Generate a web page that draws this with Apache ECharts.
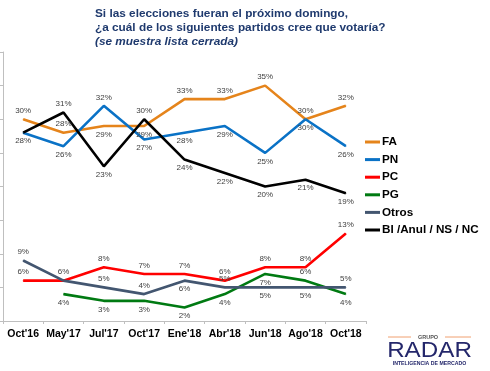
<!DOCTYPE html>
<html>
<head>
<meta charset="utf-8">
<script src="https://cdn.jsdelivr.net/npm/echarts@6/dist/echarts.min.js"></script>
<style>html,body{margin:0;padding:0;background:#fff}#c{width:490px;height:371px}</style>
</head>
<body>
<div id="c"></div>
<script>
var categories = ["Oct'16", "May'17", "Jul'17", "Oct'17", "Ene'18", "Abr'18", "Jun'18", "Ago'18", "Oct'18"];
var fa    = [30, 28, 29, 29, 33, 33, 35, 30, 32];
var pn    = [28, 26, 32, 27, 28, 29, 25, 30, 26];
var pc    = [6, 6, 8, 7, 7, 6, 8, 8, 13];
var pg    = [null, 4, 3, 3, 2, 4, 7, 6, 4];
var otros = [9, 6, 5, 4, 6, 5, 5, 5, 5];
var blanco = [28, 31, 23, 30, 24, 22, 20, 21, 19];
var seriesNames = ['FA', 'PN', 'PC', 'PG', 'Otros', 'BI /Anul / NS / NC'];
var titleLines = ['Si las elecciones fueran el próximo domingo,', '¿a cuál de los siguientes partidos cree que votaría?', '(se muestra lista cerrada)'];

// label placement (style only)
var faPos    = ['top','top','bottom','bottom','top','top','top','top','top'];
var pnPos    = ['bottom','bottom','top','bottom','bottom','bottom','bottom','bottom','bottom'];
var pcPos    = ['top','top','top','top','top','top','top','top','top'];
var pgPos    = ['none','bottom','bottom','bottom','bottom','bottom','bottom','top','bottom'];
var otrosPos = ['top','none','top','top','bottom','top','bottom','bottom','top'];
var blPos    = ['none','top','bottom','top','bottom','bottom','bottom','bottom','bottom'];

var FONT = 'Arial, "Liberation Sans", sans-serif';

function mkData(vals, pos) {
  return vals.map(function (v, i) {
    if (v === null) return null;
    var p = pos[i];
    if (p === 'none') return { value: v, label: { show: false } };
    return { value: v, label: { show: true, position: p } };
  });
}

function mkSeries(name, vals, pos, color) {
  return {
    name: name, type: 'line', data: mkData(vals, pos),
    symbol: 'circle', symbolSize: 1, showSymbol: true,
    lineStyle: { color: color, width: 2.6 },
    itemStyle: { color: color },
    label: { show: true, formatter: '{c}%', fontSize: 8, color: '#404040', fontFamily: FONT, distance: 4 },
    labelLayout: { hideOverlap: false },
    emphasis: { disabled: true },
    animation: false
  };
}

var chart = echarts.init(document.getElementById('c'));
chart.setOption({
  animation: false,
  title: {
    left: 90, top: 2,
    text: '{a|' + titleLines[0] + '}\n{a|' + titleLines[1] + '}\n{b|' + titleLines[2] + '}',
    textStyle: {
      rich: {
        a: { fontFamily: FONT, fontWeight: 'bold', fontSize: 11.8, color: '#1F3A6E', lineHeight: 14 },
        b: { fontFamily: FONT, fontWeight: 'bold', fontStyle: 'italic', fontSize: 11.8, color: '#1F3A6E', lineHeight: 14 }
      }
    }
  },
  legend: {
    orient: 'vertical', left: 365, top: 135, padding: 0,
    data: seriesNames,
    icon: 'rect', itemWidth: 15, itemHeight: 3, itemGap: 3.6,
    selectedMode: false,
    textStyle: { fontFamily: FONT, fontWeight: 'bold', fontSize: 11.7, color: '#000', lineHeight: 14, padding: [0, 0, 0, -3] }
  },
  grid: { left: 3, right: 124, top: 52, bottom: 50, containLabel: false },
  xAxis: {
    type: 'category', data: categories, boundaryGap: true,
    axisLine: { lineStyle: { color: '#BFBFBF', width: 1 } },
    axisTick: { show: true, length: 3, lineStyle: { color: '#BFBFBF' } },
    axisLabel: { fontFamily: FONT, fontWeight: 'bold', fontSize: 10.5, color: '#000', margin: 8, interval: 0 },
    splitLine: { show: false }
  },
  yAxis: {
    type: 'value', min: 0, max: 40, interval: 5,
    axisLine: { show: true, lineStyle: { color: '#BFBFBF', width: 1 } },
    axisTick: { show: true, length: 3, lineStyle: { color: '#BFBFBF' } },
    axisLabel: { show: false },
    splitLine: { show: false }
  },
  series: [
    mkSeries(seriesNames[0], fa, faPos, '#E5841B'),
    mkSeries(seriesNames[1], pn, pnPos, '#0A72C6'),
    mkSeries(seriesNames[2], pc, pcPos, '#FF0000'),
    mkSeries(seriesNames[3], pg, pgPos, '#007A12'),
    mkSeries(seriesNames[4], otros, otrosPos, '#435670'),
    mkSeries(seriesNames[5], blanco, blPos, '#000000')
  ],
  graphic: [
    { type: 'line', shape: { x1: 388, y1: 337, x2: 411, y2: 337 }, style: { stroke: '#F0A070', lineWidth: 1 } },
    { type: 'line', shape: { x1: 445, y1: 337, x2: 471, y2: 337 }, style: { stroke: '#F0A070', lineWidth: 1 } },
    { type: 'text', x: 428, y: 337, style: { text: 'GRUPO', fontFamily: FONT, fontWeight: 'bold', fontSize: 5.5, fill: '#555', align: 'center', verticalAlign: 'middle' } },
    { type: 'text', x: 429.5, y: 351, scaleX: 1.1, style: { text: 'RADAR', fontFamily: FONT, fontSize: 22, fill: '#24276B', align: 'center', verticalAlign: 'middle' } },
    { type: 'text', x: 429.5, y: 363.5, style: { text: 'INTELIGENCIA DE MERCADO', fontFamily: FONT, fontWeight: 'bold', fontSize: 5.2, fill: '#24276B', align: 'center', verticalAlign: 'middle' } }
  ]
});
</script>
</body>
</html>
